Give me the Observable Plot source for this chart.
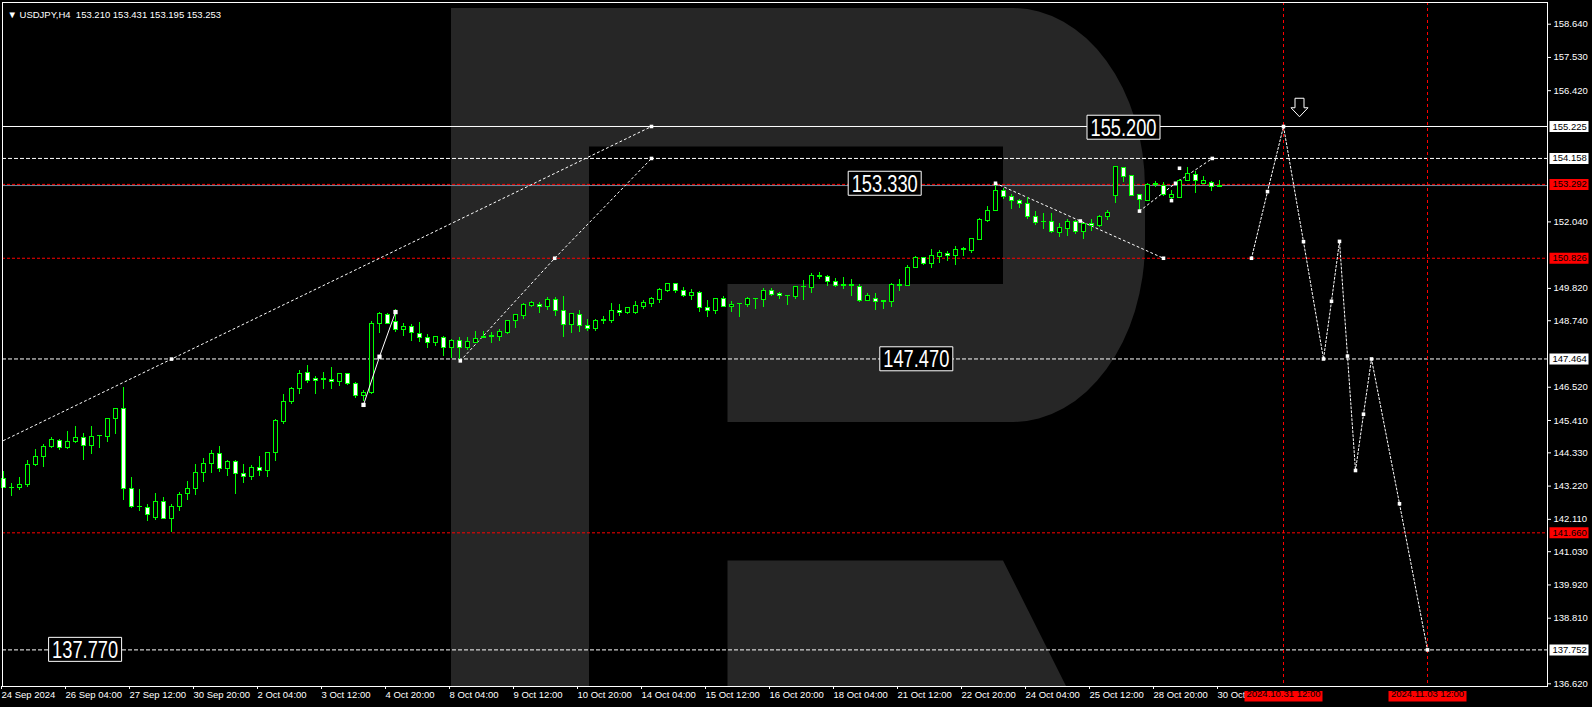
<!DOCTYPE html>
<html><head><meta charset="utf-8">
<script src="https://cdn.jsdelivr.net/npm/d3@7"></script>
<script src="https://cdn.jsdelivr.net/npm/@observablehq/plot@0.6"></script>
<style>
html,body{margin:0;padding:0;background:#000;}
#chart{width:1592px;height:707px;overflow:hidden;}
</style></head><body><div id="chart"></div>
<script>
const symbolName = "USDJPY";
const timeframe = "H4";

const opens = [143.46,143.15,143.15,143.25,143.92,144.19,144.52,144.73,144.48,144.69,144.83,144.55,144.89,144.85,145.45,145.80,143.13,142.52,142.48,142.15,142.70,142.12,142.52,142.95,143.12,143.65,143.95,144.28,143.79,144.03,143.63,143.52,143.83,143.72,144.32,145.35,146.02,146.46,147.00,146.78,146.77,146.77,146.69,146.97,146.63,146.22,146.32,148.64,148.94,148.70,
148.44,148.54,148.31,148.17,147.99,148.17,147.83,148.08,147.83,148.01,148.17,148.20,148.21,148.34,148.72,148.90,149.24,149.28,149.19,149.42,149.08,148.59,148.92,148.57,148.46,148.72,148.73,149.08,148.99,148.99,149.19,149.29,149.44,149.73,149.96,149.74,149.57,149.68,149.18,149.06,149.45,149.19,149.29,149.26,149.45,149.44,149.73,149.62,149.56,149.53,149.85,149.84,150.21,150.20,150.04,149.91,149.92,149.86,149.40,149.47,149.40,149.38,
149.91,149.89,150.51,150.84,150.64,150.86,150.97,150.90,151.10,151.06,151.45,152.06,152.41,153.08,152.88,152.75,152.64,152.21,152.04,152.05,151.68,151.80,152.02,151.70,151.98,151.90,152.20,152.91,153.85,153.56,152.94,152.73,153.27,153.24,152.83,152.83,153.40,153.62,153.32,153.34,153.210];
const highs = [143.71,143.30,143.51,144.06,144.44,144.61,144.84,144.78,145.04,145.21,144.97,145.21,144.91,145.47,145.80,146.51,143.51,143.11,142.61,142.96,142.84,142.61,143.01,143.37,143.94,144.13,144.41,144.54,144.06,144.06,143.94,143.91,144.21,144.33,145.43,146.27,146.50,147.08,147.25,146.87,147.00,147.17,146.97,146.99,146.68,146.40,148.70,149.02,148.97,149.10,
148.64,148.62,148.68,148.28,148.21,148.21,148.13,148.17,148.17,148.38,148.37,148.36,148.45,148.74,148.92,149.33,149.38,149.36,149.53,149.53,149.55,148.97,149.08,148.77,148.79,148.88,149.31,149.28,149.19,149.39,149.42,149.53,149.83,149.99,149.99,149.86,149.77,149.72,149.42,149.49,149.55,149.39,149.33,149.52,149.49,149.83,149.81,149.68,149.58,149.87,150.07,150.31,150.34,150.25,150.15,150.17,150.11,149.95,149.64,149.64,149.42,149.97,
150.11,150.57,150.89,150.86,151.13,151.09,151.04,151.22,151.20,151.50,152.14,152.55,153.33,153.17,152.94,152.80,152.84,152.39,152.32,152.31,151.98,152.11,152.09,152.00,152.11,152.24,152.41,153.89,153.87,153.59,152.96,153.31,153.39,153.36,153.08,153.44,153.87,153.73,153.56,153.39,153.431];
const lows = [143.13,142.88,143.07,143.18,143.88,143.85,144.48,144.41,144.44,144.63,144.08,144.29,144.49,144.68,144.94,142.74,142.47,142.38,142.05,142.07,142.09,141.66,142.38,142.74,142.91,143.35,143.64,143.69,143.54,142.95,143.32,143.41,143.54,143.51,144.04,145.29,145.96,146.28,146.66,146.28,146.45,146.45,146.55,146.58,146.16,146.06,146.28,148.30,148.60,148.36,
148.22,148.06,148.01,147.83,147.89,147.55,147.48,147.38,147.75,147.97,148.14,147.99,148.06,148.28,148.49,148.78,149.17,148.99,149.08,148.89,148.19,148.33,148.36,148.39,148.37,148.62,148.64,148.89,148.95,148.95,149.10,149.17,149.33,149.68,149.66,149.52,149.42,149.02,148.84,148.94,149.17,149.02,148.86,149.17,149.12,149.19,149.55,149.44,149.24,149.44,149.42,149.64,150.13,149.88,149.86,149.77,149.56,149.36,149.39,149.08,149.10,149.17,
149.73,149.87,150.48,150.57,150.48,150.66,150.73,150.60,150.90,151.00,151.43,152.03,152.38,152.78,152.47,152.49,152.11,151.91,151.78,151.66,151.53,151.56,151.61,151.44,151.73,151.84,152.09,152.67,153.37,152.89,152.40,152.71,153.20,152.89,152.70,152.81,153.38,152.98,153.29,153.07,153.195];
const closes = [143.16,143.17,143.26,143.93,144.20,144.53,144.76,144.49,144.70,144.83,144.55,144.87,144.90,145.47,145.80,143.12,142.52,142.51,142.25,142.70,142.12,142.53,142.93,143.13,143.66,143.96,144.28,143.79,144.03,143.63,143.53,143.83,143.72,144.33,145.38,146.03,146.47,146.97,146.72,146.73,146.78,146.69,146.97,146.62,146.22,146.33,148.64,148.95,148.64,148.44,
148.54,148.34,148.16,147.99,148.20,147.84,148.08,147.83,148.04,148.14,148.20,148.24,148.36,148.74,148.92,149.25,149.33,149.19,149.42,149.06,148.59,148.95,148.55,148.46,148.72,148.75,149.08,149.00,149.15,149.22,149.33,149.45,149.75,149.95,149.73,149.57,149.68,149.17,149.06,149.45,149.19,149.28,149.31,149.47,149.46,149.74,149.61,149.55,149.57,149.85,149.86,150.22,150.22,150.04,149.91,149.92,149.89,149.39,149.55,149.36,149.38,149.94,
149.94,150.51,150.84,150.64,150.89,151.01,150.91,151.09,151.12,151.47,152.09,152.41,153.08,152.87,152.74,152.64,152.21,152.01,152.03,151.69,151.85,152.02,151.70,151.98,151.90,152.22,152.35,153.86,153.53,152.92,152.77,153.28,153.29,152.94,152.94,153.42,153.64,153.40,153.41,153.20,153.253];

const xTickIndex = [0,8,16,24,32,40,48,56,64,72,80,88,96,104,112,120,128,136,144,152];
const xTickLabels = ["24 Sep 2024","26 Sep 04:00","27 Sep 12:00","30 Sep 20:00","2 Oct 04:00","3 Oct 12:00","4 Oct 20:00","8 Oct 04:00","9 Oct 12:00","10 Oct 20:00","14 Oct 04:00","15 Oct 12:00","16 Oct 20:00","18 Oct 04:00","21 Oct 12:00","22 Oct 20:00","24 Oct 04:00","25 Oct 12:00","28 Oct 20:00","30 Oct"];
const yTickValues = [158.640,157.530,156.420,152.040,149.820,148.740,146.520,145.410,144.330,143.220,142.110,141.030,139.920,138.810,136.620];

const solidLevels = [155.225];
const whiteDashLevels = [154.158, 147.464, 137.752];
const redDashLevels = [153.292, 150.826, 141.660];
const bidPrice = 153.253;

const priceBoxValues = [155.225, 154.158, 153.292, 150.826, 147.464, 141.660, 137.752];
const priceBoxColors = ["#ffffff", "#ffffff", "#ff0000", "#ff0000", "#ffffff", "#ff0000", "#ffffff"];

const forecastDateIdx = [160, 178];
const forecastDateLabels = ["2024.10.31 12:00", "2024.11.03 12:00"];

const levelLabelValues = [155.200, 153.330, 147.470, 137.770];
const levelLabelIdx = [140, 110.15, 114.1, 10.2];

const forecastIdx = [156, 158, 160, 162.5, 165, 166, 167, 168, 169, 170, 171, 174.5, 178];
const forecastPrice = [150.826, 153.05, 155.225, 151.38, 147.464, 149.39, 151.39, 147.56, 143.74, 145.62, 147.464, 142.63, 137.752];

const lineAIdx = [0, 21, 81];
const lineAPrice = [144.74, 147.46, 155.225];
const lineBIdx = [57.1, 68.9, 81];
const lineBPrice = [147.40, 150.826, 154.158];
const lineCIdx = [45, 47, 49];
const lineCPrice = [145.93, 147.54, 149.03];
const lineDIdx = [124, 134.6, 145];
const lineDPrice = [153.33, 152.07, 150.826];
const lineEIdx = [142, 146.5, 151.1];
const lineEPrice = [152.40, 153.33, 154.158];
const extraMarkIdx = [146, 147];
const extraMarkPrice = [152.75, 153.83];

const arrowIdx = [162];
const arrowPrice = [155.85];

// ---------- build ----------
const bars = opens.map((o, i) => ({i, open: o, high: highs[i], low: lows[i], close: closes[i]}));
const green = "#00ff00";
const fmt3 = d3.format(".3f");
const pts = (idx, price) => idx.map((x, k) => ({x, y: price[k]}));
const priceBoxes = priceBoxValues.map((p, k) => ({price: p, color: priceBoxColors[k]}));
const dateLabels = forecastDateIdx.map((x, k) => ({x, label: forecastDateLabels[k]}));
const levelLabels = levelLabelValues.map((v, k) => ({x: levelLabelIdx[k], y: v, label: fmt3(v)}));
const markers = [
  ...pts(forecastIdx, forecastPrice),
  ...pts(lineAIdx.slice(1), lineAPrice.slice(1)),
  ...pts(lineBIdx, lineBPrice),
  ...pts(lineDIdx, lineDPrice),
  ...pts(lineEIdx, lineEPrice),
  ...pts(extraMarkIdx, extraMarkPrice)
];
const last = bars[bars.length - 1];
const titleText = "\u25BC " + symbolName + "," + timeframe + "  " + [last.open, last.high, last.low, last.close].map(fmt3).join(" ");

function rectSymbol(x, y, w, h) {
  return {draw(ctx) { ctx.moveTo(x, y); ctx.lineTo(x + w, y); ctx.lineTo(x + w, y + h); ctx.lineTo(x, y + h); ctx.closePath(); }};
}
const downArrow = {draw(ctx) {
  ctx.moveTo(-4.5, -9.5); ctx.lineTo(4.5, -9.5); ctx.lineTo(4.5, 0); ctx.lineTo(8.5, 0);
  ctx.lineTo(0, 9); ctx.lineTo(-8.5, 0); ctx.lineTo(-4.5, 0); ctx.closePath();
}};

const dotted = {x: "x", y: "y", stroke: "#fff", strokeWidth: 1, strokeDasharray: "2,3"};

const svg = Plot.plot({
  width: 1592, height: 707,
  marginLeft: 2, marginRight: 45, marginTop: 2, marginBottom: 21,
  style: {background: "#000", color: "#fff", fontFamily: "'Liberation Sans', Arial, sans-serif", fontSize: "9.5px"},
  x: {type: "linear", domain: [-0.125, 193]},
  y: {type: "linear", domain: [136.53, 159.364]},
  color: {type: "identity"},
  marks: [
    Plot.ruleY(solidLevels, {stroke: "#fff"}),
    Plot.ruleY(whiteDashLevels, {stroke: "#fff", strokeDasharray: "4,2"}),
    Plot.ruleY([bidPrice], {stroke: "#778899"}),
    Plot.ruleY(redDashLevels, {stroke: "#ff0000", strokeDasharray: "3,2"}),
    Plot.ruleX(forecastDateIdx, {stroke: "#ff0000", strokeDasharray: "3,3"}),
    Plot.line(pts(lineAIdx, lineAPrice), dotted),
    Plot.line(pts(lineBIdx, lineBPrice), dotted),
    Plot.line(pts(lineDIdx, lineDPrice), dotted),
    Plot.line(pts(lineEIdx, lineEPrice), dotted),
    Plot.line(pts(forecastIdx, forecastPrice), {...dotted, strokeDasharray: "2,2"}),
    Plot.ruleX(bars, {x: "i", y1: "low", y2: "high", stroke: green, shapeRendering: "crispEdges"}),
    Plot.rect(bars, {x1: d => d.i - 0.25, x2: d => d.i + 0.25, y1: "open", y2: "close",
      fill: d => d.close < d.open ? "#ffffff" : "#000000", stroke: green, shapeRendering: "crispEdges"}),
    Plot.line(pts(lineCIdx, lineCPrice), {x: "x", y: "y", stroke: "#fff", strokeWidth: 1}),
    Plot.dot(pts(lineCIdx, lineCPrice), {x: "x", y: "y", symbol: "square", r: 2.4, fill: "#fff"}),
    Plot.dot(markers, {x: "x", y: "y", symbol: "square", r: 2, fill: "#fff"}),
    Plot.dot(pts(arrowIdx, arrowPrice), {x: "x", y: "y", symbol: downArrow, fill: "#000", stroke: "#fff", strokeWidth: 1}),
    Plot.dot(levelLabels, {x: "x", y: "y", symbol: rectSymbol(-36.5, -12, 73, 24), fill: "#000", stroke: "#fff", strokeWidth: 1}),
    Plot.text(levelLabels, {x: "x", y: "y", text: "label", fill: "#fff", fontSize: 24, dy: 1}),
    Plot.axisY(yTickValues, {anchor: "right", tickSize: 3, tickPadding: 3, tickFormat: fmt3, label: null, fontSize: 9.5}),
    Plot.axisX(xTickIndex, {anchor: "bottom", tickSize: 3, tickPadding: 2, label: null, fontSize: 9.5,
      tickFormat: d => xTickLabels[xTickIndex.indexOf(d)], textAnchor: "start", dx: -2}),
    Plot.dot(priceBoxes, {y: "price", frameAnchor: "right", symbol: rectSymbol(2, -5.5, 39, 11), fill: "color"}),
    Plot.text(priceBoxes, {y: "price", text: d => fmt3(d.price), frameAnchor: "right", textAnchor: "start", dx: 5, fill: "#000", fontSize: 9.5}),
    Plot.dot(dateLabels, {x: "x", frameAnchor: "bottom", symbol: rectSymbol(-39, 4.5, 78, 10.5), fill: "#ff0000"}),
    Plot.text(dateLabels, {x: "x", text: "label", frameAnchor: "bottom", dy: 10, fill: "#000", fontSize: 9.5}),
    Plot.frame({stroke: "#fff"}),
    Plot.text([titleText], {frameAnchor: "top-left", dx: 5, dy: 9, textAnchor: "start", fill: "#fff", fontSize: 9.5})
  ]
});

// watermark logo (decorative background)
const ns = "http://www.w3.org/2000/svg";
const wm = document.createElementNS(ns, "path");
wm.setAttribute("d",
  "M451,8H589V686H451Z" +
  "M589,8H1013A132,180 0 0 1 1145,188V242A132,180 0 0 1 1013,422H727.5V284H1003V146.5H589Z" +
  "M727.5,560.4H1003L1066,686H727.5Z");
wm.setAttribute("fill", "#262626");
const styleEl = svg.querySelector("style");
svg.insertBefore(wm, styleEl ? styleEl.nextSibling : svg.firstChild);

// condense the large level labels to fit their boxes
const labelSet = new Set(levelLabels.map(d => d.label));
svg.querySelectorAll("text").forEach(t => {
  if (labelSet.has(t.textContent.trim())) {
    t.setAttribute("textLength", "66");
    t.setAttribute("lengthAdjust", "spacingAndGlyphs");
    t.querySelectorAll("tspan").forEach(s => {
      s.setAttribute("textLength", "66");
      s.setAttribute("lengthAdjust", "spacingAndGlyphs");
    });
  }
});

document.getElementById("chart").appendChild(svg);
</script>
</body></html>
